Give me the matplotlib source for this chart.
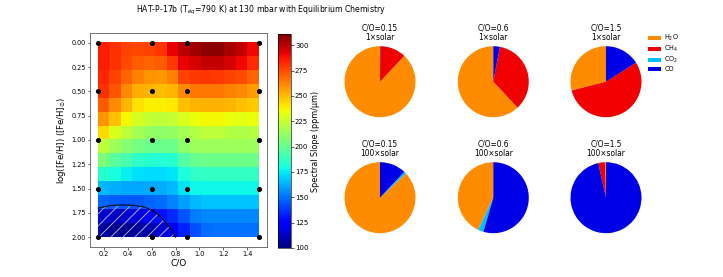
import numpy as np
import matplotlib
matplotlib.use("Agg")
import matplotlib.pyplot as plt
from matplotlib.patches import Patch

W, H = 723, 277
DPI = 72

# ---- data ----
co_grid = [0.15, 1.5]          # heatmap extent in C/O
feh_grid = [0.0, 2.0]          # heatmap extent in log metallicity
slope = np.array([
    [285, 281, 277, 276, 277, 280, 292, 300, 305, 308, 308, 303, 298, 290],
    [285, 281, 275, 271, 269, 271, 279, 292, 295, 298, 298, 295, 290, 282],
    [283, 277, 269, 263, 259, 258, 263, 277, 279, 280, 279, 277, 275, 269],
    [281, 273, 261, 253, 251, 250, 251, 261, 265, 265, 265, 263, 261, 257],
    [271, 261, 251, 241, 238, 238, 240, 249, 251, 252, 252, 251, 249, 247],
    [259, 249, 236, 228, 224, 222, 224, 230, 234, 236, 236, 234, 232, 234],
    [243, 230, 222, 216, 212, 210, 212, 216, 220, 222, 222, 220, 218, 220],
    [222, 214, 208, 204, 202, 202, 202, 210, 214, 214, 214, 214, 214, 214],
    [206, 197, 193, 186, 184, 183, 184, 195, 200, 202, 202, 202, 202, 202],
    [184, 180, 176, 173, 172, 172, 174, 181, 186, 187, 187, 187, 187, 187],
    [165, 163, 161, 161, 161, 162, 165, 174, 178, 178, 178, 178, 178, 178],
    [147, 146, 145, 145, 147, 149, 154, 160, 165, 167, 167, 167, 167, 167],
    [115, 113, 115, 118, 125, 130, 135, 144, 152, 155, 155, 155, 155, 155],
    [106, 104, 104, 106, 109, 115, 121, 133, 143, 149, 150, 150, 150, 150],
])
model_co = [0.15, 0.6, 0.9, 1.5]
model_feh = [0.0, 0.5, 1.0, 1.5, 2.0]

hatch_co = [0.15, 0.25, 0.355, 0.45, 0.54, 0.61, 0.666, 0.72, 0.76, 0.80]
hatch_feh = [1.70, 1.675, 1.667, 1.672, 1.69, 1.725, 1.78, 1.85, 1.915, 2.0]

species = ["H$_2$O", "CH$_4$", "CO$_2$", "CO"]
species_colors = ["darkorange", "#f00000", "deepskyblue", "#0000e6"]
pie_co_labels = ["C/O=0.15", "C/O=0.6", "C/O=1.5"]
pie_met_labels = ["1×solar", "100×solar"]
pie_1x = [
    [88.0, 11.8, 0.0, 0.2],
    [62.0, 35.0, 0.0, 3.0],
    [29.0, 55.0, 0.0, 16.0],
]
pie_100x = [
    [87.0, 0.0, 1.0, 12.0],
    [43.0, 0.0, 2.5, 54.5],
    [0.5, 3.0, 0.0, 96.5],
]

vmin, vmax = 100, 311
cbar_ticks = [100, 125, 150, 175, 200, 225, 250, 275, 300]

# ---- figure ----
fig = plt.figure(figsize=(W / DPI, H / DPI), dpi=DPI)


def box(x0, y0, x1, y1):
    return [x0 / W, 1 - y1 / H, (x1 - x0) / W, (y1 - y0) / H]


ax = fig.add_axes(box(90, 33, 267, 247))
im = ax.imshow(slope, cmap="jet", vmin=vmin, vmax=vmax, aspect="auto",
               extent=[co_grid[0], co_grid[1], feh_grid[1], feh_grid[0]],
               interpolation="nearest")
plt.rcParams["hatch.linewidth"] = 0.9
ax.fill_between(hatch_co, hatch_feh, feh_grid[1], facecolor="none",
                edgecolor="#b4b4d0", hatch="//", linewidth=0)
ax.plot(hatch_co, hatch_feh, color="black", lw=1)
cc, ff = np.meshgrid(model_co, model_feh)
ax.scatter(cc.ravel(), ff.ravel(), s=16, color="black", zorder=5)
pad = 0.05 * (co_grid[1] - co_grid[0])
ax.set_xlim(co_grid[0] - pad, co_grid[1] + pad)
ax.set_ylim(2.1, -0.1)
ax.set_xticks([0.2, 0.4, 0.6, 0.8, 1.0, 1.2, 1.4])
ax.set_yticks([0.0, 0.25, 0.5, 0.75, 1.0, 1.25, 1.5, 1.75, 2.0])
ax.set_yticklabels([f"{v:.2f}" for v in [0.0, 0.25, 0.5, 0.75, 1.0, 1.25, 1.5, 1.75, 2.0]])
ax.tick_params(labelsize=6.5, length=2.5, width=0.6, pad=2)
for s in ax.spines.values():
    s.set_linewidth(0.8)
    s.set_color("#555555")
ax.set_xlabel("C/O", fontsize=9, labelpad=1)
ax.set_ylabel(r"log([Fe/H]) ([Fe/H]$_{\odot}$)", fontsize=8.5, labelpad=3)

cax = fig.add_axes(box(278.3, 34, 291, 248))
cb = fig.colorbar(im, cax=cax, ticks=cbar_ticks)
cb.ax.tick_params(labelsize=7, length=2.5, width=0.6, pad=1.5)
cb.set_label("Spectral Slope (ppm/μm)", fontsize=8, labelpad=2)
cb.outline.set_linewidth(0.6)

r = 35.5
centers_x = [380, 493.3, 606]
centers_y = [81.7, 197.7]
for row, (data, met) in enumerate(zip([pie_1x, pie_100x], pie_met_labels)):
    for col in range(3):
        cx, cy = centers_x[col], centers_y[row]
        pax = fig.add_axes(box(cx - r, cy - r, cx + r, cy + r))
        pax.pie(data[col], colors=species_colors, startangle=90,
                counterclock=True, radius=1.0,
                wedgeprops=dict(linewidth=0))
        pax.set_xlim(-1, 1)
        pax.set_ylim(-1, 1)
        pax.set_title(f"{pie_co_labels[col]}\n{met}", fontsize=7.5,
                      pad=6, linespacing=1.05)

handles = [Patch(facecolor=c, edgecolor="none") for c in species_colors]
fig.legend(handles, species, loc="upper left",
           bbox_to_anchor=(648 / W, 1 - 33 / H), frameon=False,
           fontsize=6.5, handlelength=2.0, handleheight=0.6,
           labelspacing=0.12, handletextpad=0.5, borderpad=0,
           borderaxespad=0)

fig.text(261 / W, 1 - 10 / H,
         "HAT-P-17b (T$_{eq}$=790 K) at 130 mbar with Equilibrium Chemistry",
         ha="center", va="center", fontsize=7.8)

fig.savefig("out.png", dpi=DPI)
